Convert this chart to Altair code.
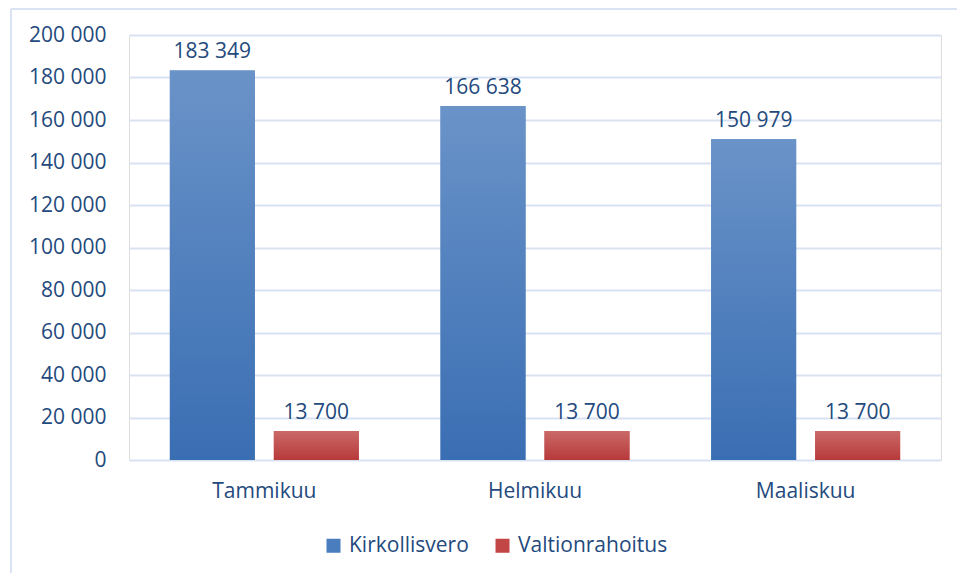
import altair as alt
import pandas as pd

months = ["Tammikuu", "Helmikuu", "Maaliskuu"]
series = ["Kirkollisvero", "Valtionrahoitus"]
kirkollisvero = [183349, 166638, 150979]
valtionrahoitus = [13700, 13700, 13700]
y_ticks = [0, 20000, 40000, 60000, 80000, 100000, 120000, 140000, 160000, 180000, 200000]

TEXT = "#244A7D"
GRID = "#D9E2F1"
FONT = "Open Sans"
FS = 21

rows = []
for i, m in enumerate(months):
    rows.append({"month": m, "series": series[0], "value": kirkollisvero[i]})
    rows.append({"month": m, "series": series[1], "value": valtionrahoitus[i]})
df = pd.DataFrame(rows)
df["label"] = df["value"].map(lambda v: f"{v:,}".replace(",", " "))

x = alt.X(
    "month:N", sort=months,
    scale=alt.Scale(paddingInner=0, paddingOuter=0),
    axis=alt.Axis(title=None, labelAngle=0, ticks=False, domain=False, grid=False,
                  labelPadding=20, labelFontSize=FS, labelColor=TEXT, labelFont=FONT),
)
xo = alt.XOffset("series:N", sort=series,
                 scale=alt.Scale(paddingInner=0.183, paddingOuter=0.393))
y = alt.Y(
    "value:Q",
    scale=alt.Scale(domain=[0, 200000], nice=False),
    axis=alt.Axis(title=None, values=y_ticks,
                  labelExpr="replace(format(datum.value, ','), ',', ' ')",
                  domain=False, ticks=False, gridColor=GRID, gridWidth=2,
                  labelPadding=23, labelFontSize=FS, labelColor=TEXT, labelFont=FONT),
)

base = alt.Chart(df).encode(x=x, xOffset=xo, y=y)

bars = base.mark_bar().encode(
    color=alt.Color("series:N", sort=series,
                    scale=alt.Scale(domain=series, range=["#4A7DBE", "#C24646"]),
                    legend=alt.Legend(title=None, orient="none", legendX=194, legendY=500,
                                      direction="horizontal", symbolType="square",
                                      symbolSize=196, symbolStrokeWidth=0,
                                      labelFontSize=FS, labelColor=TEXT, labelFont=FONT,
                                      labelOffset=5, columnPadding=23))
)

blue_grad = alt.Gradient(gradient="linear",
                         stops=[alt.GradientStop(color="#6A93C8", offset=0),
                                alt.GradientStop(color="#3A6EB3", offset=1)],
                         x1=0, x2=0, y1=0, y2=1)
red_grad = alt.Gradient(gradient="linear",
                        stops=[alt.GradientStop(color="#CA6A68", offset=0),
                               alt.GradientStop(color="#B8393A", offset=1)],
                        x1=0, x2=0, y1=0, y2=1)

blue = base.transform_filter(alt.datum.series == series[0]).mark_bar(color=blue_grad)
red = base.transform_filter(alt.datum.series == series[1]).mark_bar(color=red_grad)

labels = base.mark_text(baseline="alphabetic", dy=-12, fontSize=FS, color=TEXT, font=FONT).encode(
    text="label:N")

border_data = alt.Data(values=[{"k": 1}])
border_left = alt.Chart(border_data).mark_rule(color="#D9E3F2", strokeWidth=2).encode(
    x=alt.value(-118), y=alt.value(-26), y2=alt.value(600))
border_top = alt.Chart(border_data).mark_rule(color="#D9E3F2", strokeWidth=2).encode(
    x=alt.value(-118), x2=alt.value(900), y=alt.value(-26))

chart = alt.layer(border_left, border_top, bars, blue, red, labels).properties(
    width=812, height=425,
    padding={"left": 121, "top": 27, "right": 16, "bottom": 113},
    autosize=alt.AutoSizeParams(type="none"),
).configure_view(stroke=None).configure(font=FONT)

chart.save("out.html", embed_options={"renderer": "svg", "actions": False})
